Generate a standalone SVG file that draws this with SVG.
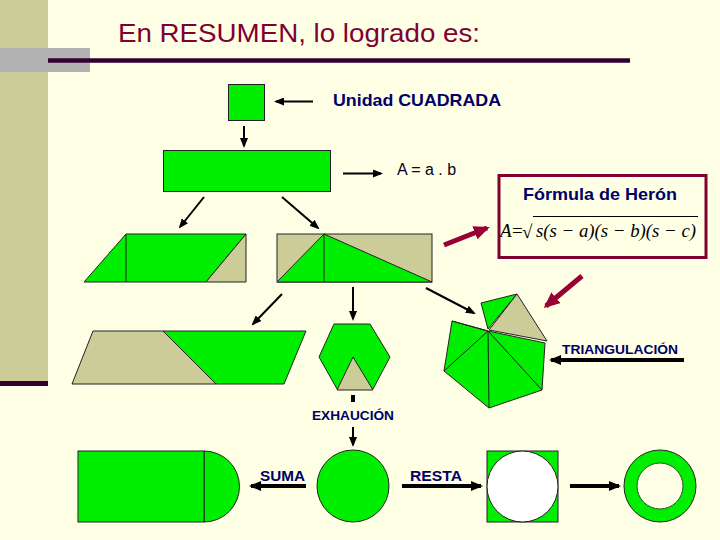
<svg xmlns="http://www.w3.org/2000/svg" width="720" height="540" viewBox="0 0 720 540">
<defs>
<style>
.g{fill:#00EE00;stroke:#222;stroke-width:1}
.t{fill:#CCCC99;stroke:#222;stroke-width:1}
.ln{fill:none;stroke:#222;stroke-width:1}
.a1{fill:none;stroke:#000;stroke-width:2;marker-end:url(#ah1)}
.a3{fill:none;stroke:#000;stroke-width:4;marker-end:url(#ah3)}
.ar{fill:none;stroke:#990033;stroke-width:5;marker-end:url(#ahr)}
.lbl{font-family:"Liberation Sans",Arial,sans-serif;font-weight:bold;fill:#000066}
.fx{font-family:"Liberation Serif","Times New Roman",serif;font-size:19px;fill:#000}
</style>
<marker id="ah1" markerUnits="userSpaceOnUse" markerWidth="10" markerHeight="8" refX="8" refY="4" orient="auto"><path d="M0,0 L10,4 L0,8 z" fill="#000"/></marker>
<marker id="ah3" markerUnits="userSpaceOnUse" markerWidth="12" markerHeight="10" refX="10" refY="5" orient="auto"><path d="M0,0 L12,5 L0,10 z" fill="#000"/></marker>
<marker id="ahr" markerUnits="userSpaceOnUse" markerWidth="16" markerHeight="14" refX="13" refY="7" orient="auto"><path d="M0,0 L16,7 L0,14 z" fill="#990033"/></marker>
</defs>
<rect width="720" height="540" fill="#FFFFE6"/>
<g id="frame">
<rect x="0" y="0" width="48" height="381" fill="#CCCC99"/>
<rect x="0" y="381" width="48" height="5" fill="#330033"/>
<rect x="0" y="48" width="90" height="24" fill="#B2B2B2"/>
<line x1="48" y1="60.5" x2="630" y2="60.5" stroke="#330033" stroke-width="4.5"/>
<text x="118" y="42" font-family="'Liberation Sans',Arial,sans-serif" font-size="26" fill="#800033" textLength="362" lengthAdjust="spacingAndGlyphs">En RESUMEN, lo logrado es:</text>
</g>
<g id="unit-square"><rect class="g" x="228.5" y="84.5" width="36" height="36"/></g>
<g id="unit-label"><text class="lbl" x="333" y="106" font-size="17" textLength="168" lengthAdjust="spacingAndGlyphs">Unidad CUADRADA</text></g>
<g id="rectangle"><rect class="g" x="163.5" y="150.5" width="167" height="41"/></g>
<g id="area-label"><text x="397" y="175" font-family="'Liberation Sans',Arial,sans-serif" font-size="16" fill="#000022">A = a . b</text></g>
<g id="heron">
<rect x="499" y="175.5" width="207" height="82" fill="none" stroke="#800033" stroke-width="3"/>
<text class="fx" x="500" y="237" font-style="italic">A</text>
<text class="fx" x="512" y="237">=</text>
<text class="fx" x="522" y="238" font-size="24">√</text>
<line x1="533" y1="216.5" x2="698" y2="216.5" stroke="#000" stroke-width="1"/>
<text class="fx" font-style="italic" x="536" y="237" textLength="160" lengthAdjust="spacingAndGlyphs">s(s − a)(s − b)(s − c)</text>
<text class="lbl" x="600" y="200" font-size="17" text-anchor="middle" textLength="154" lengthAdjust="spacingAndGlyphs">Fórmula de Herón</text>
</g>
<g id="parallelogram">
<polygon class="g" points="84,282 126,234 246,234 206,282"/>
<polygon class="t" points="246,234 246,282 206,282"/>
<line class="ln" x1="126" y1="234" x2="126" y2="282"/>
</g>
<g id="triangle">
<rect class="t" x="277" y="234" width="155" height="48"/>
<polygon class="g" points="277,282 324,234 432,282"/>
<line class="ln" x1="324" y1="234" x2="324" y2="282"/>
</g>
<g id="trapezoid">
<polygon class="t" points="72,384 93,331 163,331 216,384"/>
<polygon class="g" points="163,331 306,331 284,384 216,384"/>
</g>
<g id="hexagon">
<polygon class="g" points="334,324 370,324 390,357 373,389 337,389 319,357"/>
<polygon class="t" points="353,357 337,390 373,390"/>
</g>
<g id="exhaucion-label"><text class="lbl" x="353" y="420" font-size="13" text-anchor="middle" textLength="82" lengthAdjust="spacingAndGlyphs">EXHAUCIÓN</text></g>
<g id="triangulation">
<polygon class="g" points="488,331 452,321 444,371 489,408 542,390 545,343"/>
<polyline class="ln" points="452,321 488,331 444,371"/>
<polyline class="ln" points="489,408 488,331 542,390"/>
<polygon class="g" points="481,303 517,294 488,329"/>
<polygon class="t" points="517,294 547,341 489,330"/>
</g>
<g id="triangulation-label"><text class="lbl" x="562" y="354" font-size="13" textLength="116" lengthAdjust="spacingAndGlyphs">TRIANGULACIÓN</text></g>
<g id="sum-shape">
<path class="g" d="M204,451 A35.5,35.5 0 0 1 204,522 Z"/>
<rect class="g" x="78" y="451" width="126" height="71"/>
</g>
<g id="circle"><circle class="g" cx="353" cy="486" r="36" stroke="#225522"/></g>
<g id="sum-label"><text class="lbl" x="260" y="481" font-size="15" textLength="45" lengthAdjust="spacingAndGlyphs">SUMA</text></g>
<g id="rest-label"><text class="lbl" x="410" y="481" font-size="15" textLength="52" lengthAdjust="spacingAndGlyphs">RESTA</text></g>
<g id="square-minus-circle">
<rect class="g" x="487" y="451" width="71" height="71"/>
<circle cx="522.5" cy="486.5" r="35.5" fill="#FFFFFF" stroke="#222" stroke-width="1"/>
</g>
<g id="ring">
<circle class="g" cx="660" cy="486" r="36" stroke="#225522"/>
<circle cx="660" cy="486" r="23" fill="#FFFFE6" stroke="#225522" stroke-width="1"/>
</g>
<g id="connectors">
<line class="a1" x1="313" y1="101.5" x2="276" y2="101.5"/>
<line class="a1" x1="244" y1="126" x2="244" y2="146"/>
<line class="a1" x1="343" y1="173.5" x2="381" y2="173.5"/>
<line class="a1" x1="204" y1="197" x2="180" y2="227"/>
<line class="a1" x1="282" y1="197" x2="318" y2="228"/>
<line class="a1" x1="282" y1="294" x2="253" y2="324"/>
<line class="a1" x1="353" y1="287" x2="353" y2="319"/>
<line class="a1" x1="426" y1="288" x2="474" y2="313"/>
<line x1="353" y1="395" x2="353" y2="402" stroke="#000" stroke-width="4"/>
<line class="a1" x1="353" y1="427" x2="353" y2="445" stroke-width="3"/>
<line class="ar" x1="444" y1="245" x2="487" y2="228"/>
<line class="ar" x1="582" y1="276" x2="546" y2="306"/>
<line class="a3" x1="684" y1="360" x2="551" y2="360"/>
<line class="a3" x1="306" y1="486" x2="251" y2="486"/>
<line class="a3" x1="402" y1="486" x2="481" y2="486"/>
<line class="a3" x1="570" y1="486" x2="619" y2="486"/>
</g>
</svg>
